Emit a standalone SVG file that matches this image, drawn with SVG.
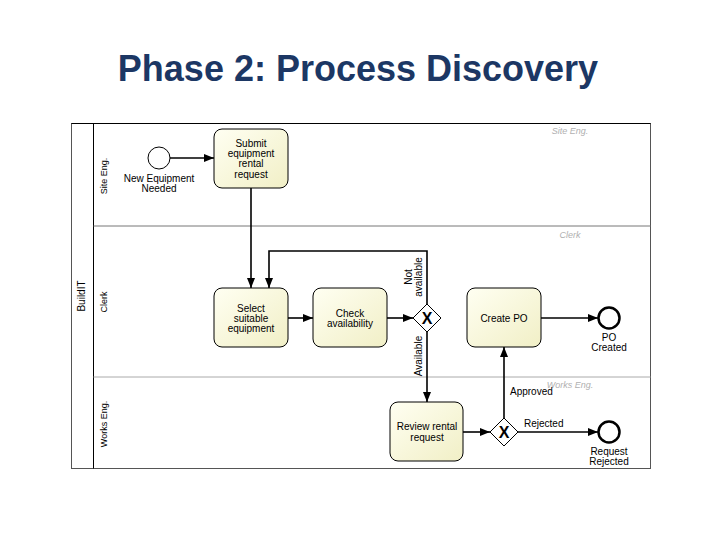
<svg xmlns="http://www.w3.org/2000/svg" width="720" height="540" viewBox="0 0 720 540">
<defs>
<linearGradient id="tg" x1="0" y1="0" x2="1" y2="1">
<stop offset="0" stop-color="#fffff2"/>
<stop offset="1" stop-color="#f1efc6"/>
</linearGradient>
<marker id="ah" markerWidth="10" markerHeight="8" refX="10" refY="4" orient="auto" markerUnits="userSpaceOnUse">
<path d="M0,0 L10,4 L0,8 z" fill="#000"/>
</marker>
</defs>
<style>
text{font-family:"Liberation Sans",Arial,sans-serif;fill:#000}
.title{font-size:36px;font-weight:bold;fill:#1c3764}
.t{font-size:10px;text-anchor:middle}
.lbl{font-size:10px;text-anchor:middle}
.lane{font-size:9px;text-anchor:middle}
.ghost{font-size:9px;font-style:italic;fill:#b0b0b0;text-anchor:middle}
.task{fill:url(#tg);stroke:#000;stroke-width:1}
.ev{fill:#fff;stroke:#000;stroke-width:1}
.evend{fill:#fff;stroke:#000;stroke-width:2.5}
.gw{fill:#fff;stroke:#000;stroke-width:1}
.gx{font-size:16px;font-weight:bold;text-anchor:middle}
.c{fill:none;stroke:#000;stroke-width:1.6}
</style>
<rect width="720" height="540" fill="#fff"/>
<text class="title" x="358" y="81" text-anchor="middle">Phase 2: Process Discovery</text>

<g id="pool">
<rect x="71.5" y="123.5" width="579" height="345" fill="#fff" stroke="#555" stroke-width="1"/>
<line x1="71.5" y1="123.5" x2="650.5" y2="123.5" stroke="#000" stroke-width="1.2"/>
<line x1="93.5" y1="123.5" x2="93.5" y2="468.5" stroke="#000" stroke-width="1"/>
<line x1="93.5" y1="226" x2="650.5" y2="226" stroke="#777" stroke-width="1"/>
<line x1="93.5" y1="377" x2="650.5" y2="377" stroke="#aaa" stroke-width="1"/>
<text class="lane" font-size="10" transform="translate(85,296) rotate(-90)" style="font-size:10px">BuildIT</text>
<text class="lane" transform="translate(107,176) rotate(-90)">Site Eng.</text>
<text class="lane" transform="translate(107,302) rotate(-90)">Clerk</text>
<text class="lane" transform="translate(107,424) rotate(-90)">Works Eng.</text>
<text class="ghost" x="570" y="134">Site Eng.</text>
<text class="ghost" x="570" y="238">Clerk</text>
<text class="ghost" x="570" y="388">Works Eng.</text>
</g>

<g id="connectors">
<line class="c" x1="170" y1="158" x2="214" y2="158" marker-end="url(#ah)"/>
<line class="c" x1="251" y1="188" x2="251" y2="288" marker-end="url(#ah)"/>
<line class="c" x1="287" y1="318" x2="313" y2="318" marker-end="url(#ah)"/>
<line class="c" x1="387" y1="318" x2="413" y2="318" marker-end="url(#ah)"/>
<polyline class="c" points="427,304 427,251 269,251 269,288" marker-end="url(#ah)"/>
<line class="c" x1="427" y1="332" x2="427" y2="402" marker-end="url(#ah)"/>
<line class="c" x1="541" y1="318" x2="598" y2="318" marker-end="url(#ah)"/>
<line class="c" x1="463" y1="432" x2="490" y2="432" marker-end="url(#ah)"/>
<line class="c" x1="504" y1="418" x2="504" y2="347" marker-end="url(#ah)"/>
<line class="c" x1="518" y1="432" x2="598" y2="432" marker-end="url(#ah)"/>
<text class="lbl" transform="translate(412,277) rotate(-90)">Not</text>
<text class="lbl" transform="translate(422,277) rotate(-90)">available</text>
<text class="lbl" transform="translate(422,356) rotate(-90)">Available</text>
<text class="lbl" x="510" y="395" text-anchor="start" style="text-anchor:start">Approved</text>
<text class="lbl" x="524" y="427" style="text-anchor:start">Rejected</text>
</g>

<g id="start">
<circle class="ev" cx="159" cy="158" r="11"/>
<text class="lbl" x="159" y="182">New Equipment</text>
<text class="lbl" x="159" y="192">Needed</text>
</g>

<g id="submit">
<rect class="task" x="214" y="129" width="74" height="59" rx="8"/>
<text class="t" x="251" y="147">Submit</text>
<text class="t" x="251" y="157">equipment</text>
<text class="t" x="251" y="167">rental</text>
<text class="t" x="251" y="178">request</text>
</g>

<g id="select">
<rect class="task" x="214" y="288" width="74" height="59" rx="8"/>
<text class="t" x="251" y="312">Select</text>
<text class="t" x="251" y="322">suitable</text>
<text class="t" x="251" y="332">equipment</text>
</g>

<g id="check">
<rect class="task" x="313" y="288" width="74" height="59" rx="8"/>
<text class="t" x="350" y="317">Check</text>
<text class="t" x="350" y="327">availability</text>
</g>

<g id="gw1">
<polygon class="gw" points="427,304 441,318 427,332 413,318"/>
<text class="gx" x="427" y="324">X</text>
</g>

<g id="createpo">
<rect class="task" x="467" y="288" width="74" height="59" rx="8"/>
<text class="t" x="504" y="322">Create PO</text>
</g>

<g id="endpo">
<circle class="evend" cx="609" cy="318" r="10.5"/>
<text class="lbl" x="609" y="341">PO</text>
<text class="lbl" x="609" y="351">Created</text>
</g>

<g id="review">
<rect class="task" x="390" y="402" width="73" height="59" rx="8"/>
<text class="t" x="427" y="430">Review rental</text>
<text class="t" x="427" y="441">request</text>
</g>

<g id="gw2">
<polygon class="gw" points="504,418 518,432 504,446 490,432"/>
<text class="gx" x="504" y="438">X</text>
</g>

<g id="endrej">
<circle class="evend" cx="609" cy="432" r="10.5"/>
<text class="lbl" x="609" y="455">Request</text>
<text class="lbl" x="609" y="465">Rejected</text>
</g>
</svg>
